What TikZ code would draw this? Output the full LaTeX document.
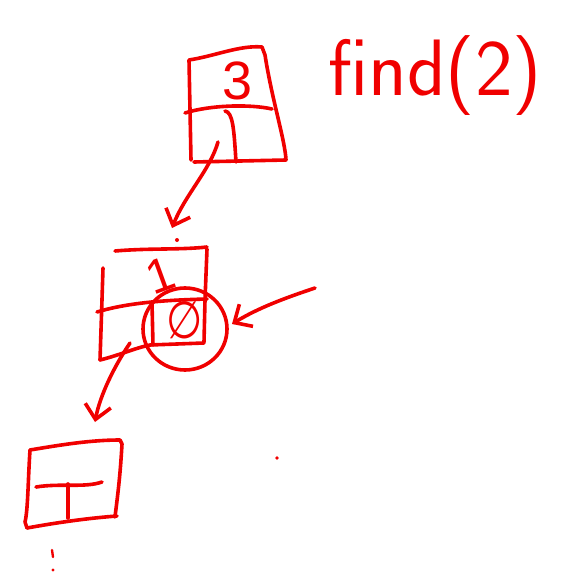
\documentclass[tikz,border=0pt]{standalone}
\usepackage{fontspec}
\setmainfont{Liberation Sans}
\newfontfamily\symfont{DejaVu Sans}
\usetikzlibrary{arrows.meta}
\definecolor{ink}{RGB}{240,0,0}
\begin{document}
\begin{tikzpicture}[x=1pt,y=-1pt,
  pen/.style={draw=ink, line width=3.6pt, line cap=round, line join=round},
  arrowpen/.style={pen, -{Straight Barb[length=14pt,width=26pt,line width=3.6pt]}},
  scrawl/.style={text=ink, inner sep=0pt}]
\useasboundingbox (0,0) rectangle (564,572);

% heading
\node[scrawl, anchor=base west, font=\sffamily\fontsize{80}{84}\selectfont\addfontfeature{LetterSpace=7}] (title) at (328,96) {find(2)};

% top cell: value 3, pointer slot below
\draw[pen] (191,160) -- (189,60) .. controls (215,56) and (240,45) .. (262,47)
  -- (265,55) .. controls (272,100) and (285,140) .. (286,160) -- (194,162);
\draw[pen] (185,113) .. controls (210,105) and (250,104) .. (272,109);
\draw[pen] (225,111) .. controls (233,112) and (234,130) .. (236,162);
\node[scrawl, font=\fontsize{54}{56}\selectfont] (v3) at (238,81) {3};

% arrow from top cell to middle cell
\coordinate (a1s) at (218,142);
\coordinate (a1e) at (172,228);
\draw[arrowpen] (a1s) .. controls (210,170) and (185,195) .. (a1e);
\fill[ink] (177,240) circle (2);

% middle cell
\draw[pen] (103,268) .. controls (102,300) and (101,330) .. (100,360);
\draw[pen] (115,251) .. controls (150,248) and (180,250) .. (207,247);
\draw[pen] (207,249) -- (205,300) -- (204,342);
\draw[pen] (97,312) .. controls (130,302) and (170,300) .. (207,299);
\draw[pen] (100,360) .. controls (120,355) and (135,348) .. (150,345) -- (204,343);
\draw[pen] (152,303) -- (153,345);
\node[scrawl, rotate=20, font=\fontsize{48}{50}\selectfont] (v1) at (160,275) {1};
\node[scrawl, xscale=0.8, font=\symfont\fontsize{52}{54}\selectfont] (vnull) at (185,320) {∅};
\draw[pen] (185,329) ellipse (42 and 41);

% arrow from the right onto the circled slot
\coordinate (a2s) at (315,288);
\coordinate (a2e) at (232,324);
\draw[arrowpen] (a2s) .. controls (285,298) and (258,308) .. (a2e);

% arrow from middle cell to bottom cell
\coordinate (a3s) at (130,343);
\coordinate (a3e) at (95,422);
\draw[arrowpen] (a3s) .. controls (115,365) and (100,395) .. (a3e);

% bottom cell with a grounded pointer
\draw[pen] (30,450) .. controls (60,445) and (90,440) .. (120,440)
  -- (122,444) .. controls (120,480) and (117,500) .. (115,517);
\draw[pen] (27,528) .. controls (60,522) and (90,518) .. (117,516);
\draw[pen] (30,450) .. controls (28,480) and (28,510) .. (25,522) -- (27,528);
\draw[pen] (36,487) .. controls (60,483) and (85,488) .. (102,482);
\draw[pen] (68,484) -- (68,518);

% stray marks
\fill[ink] (277,458) circle (1.8);
\draw[pen, line width=2.4pt] (52,550) -- (53,557);
\fill[ink] (53,570) circle (1.6);
\end{tikzpicture}
\end{document}
